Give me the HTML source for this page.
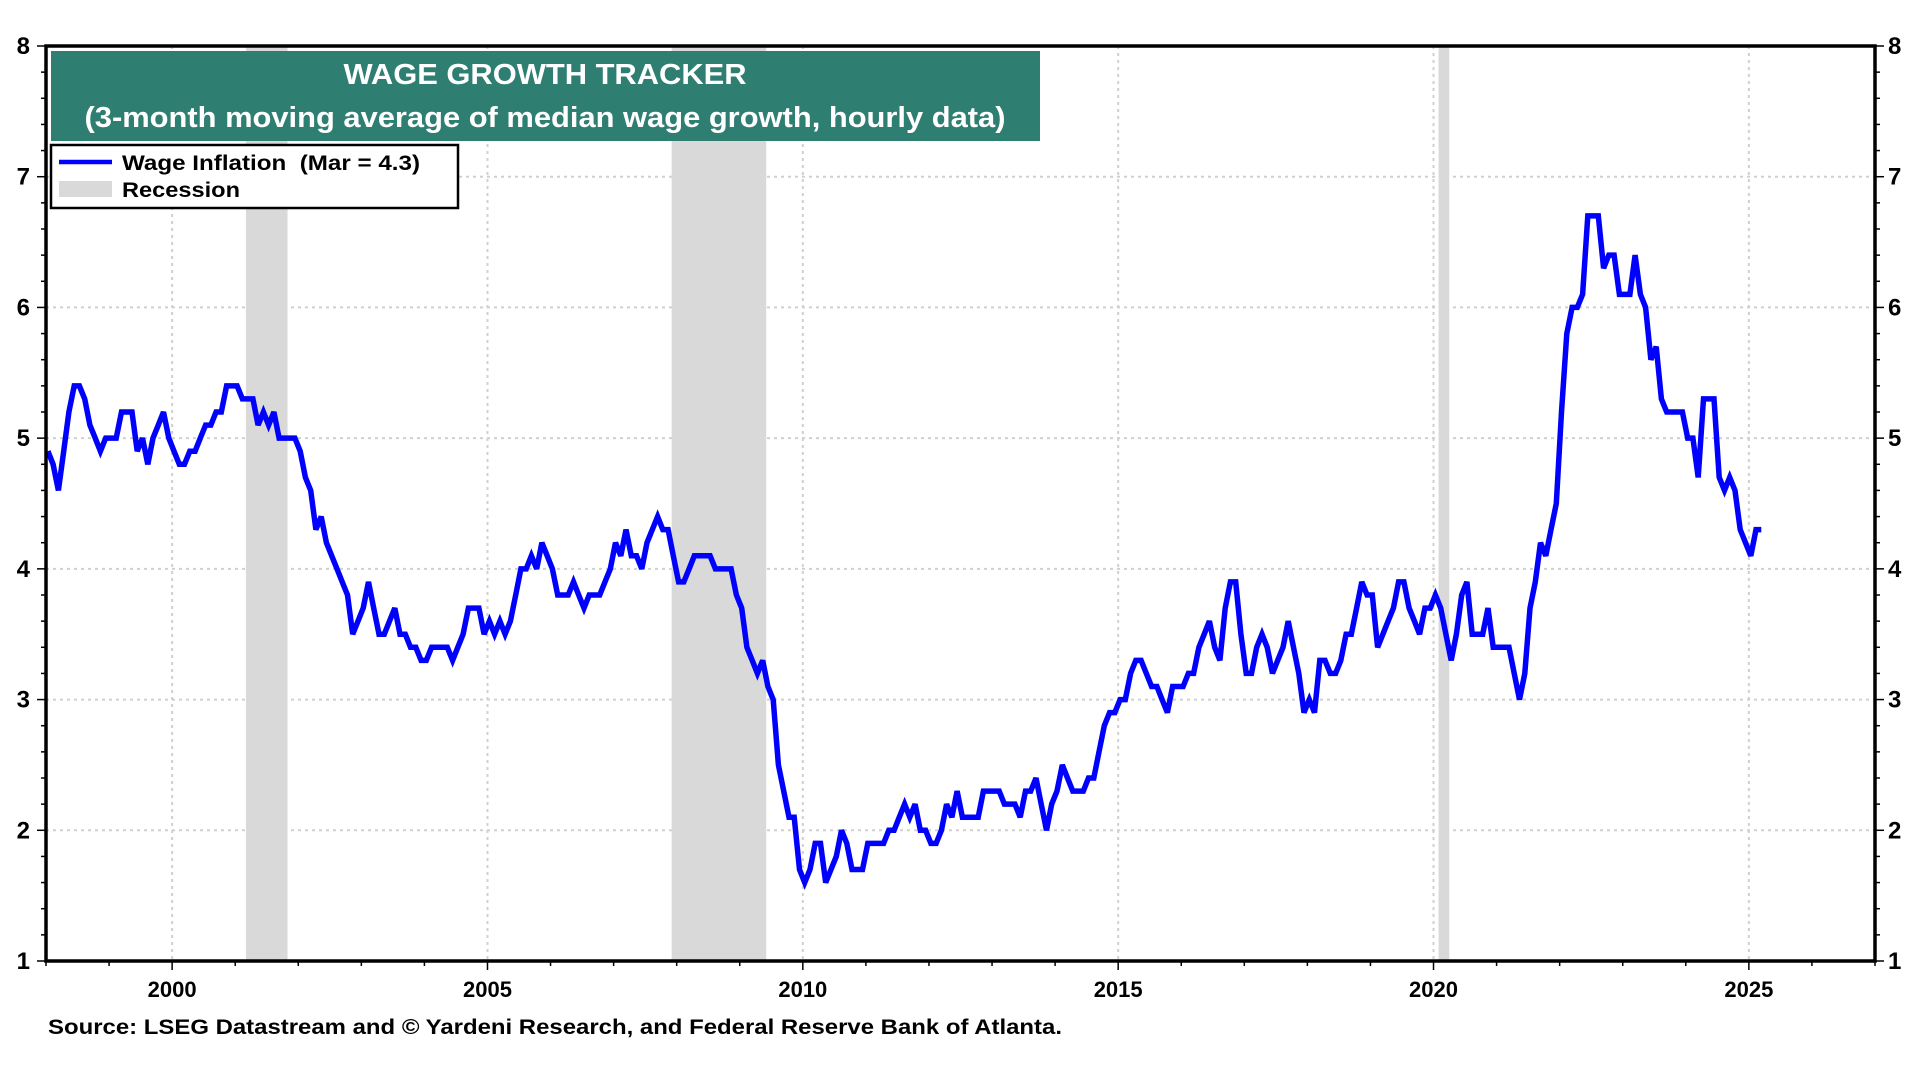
<!DOCTYPE html>
<html><head><meta charset="utf-8"><style>
html,body{margin:0;padding:0;background:#fff;}
svg{display:block;font-family:"Liberation Sans",Arial,sans-serif;}
</style></head><body>
<svg id="chart" width="1920" height="1080" viewBox="0 0 1920 1080" xmlns="http://www.w3.org/2000/svg">
<g id="grid"></g>
<g id="rec"></g>
<g id="series"></g>
<g id="axes"></g>
<g>
<rect x="51" y="51" width="989" height="90" fill="#2f7e72"/>
<text x="545" y="84" text-anchor="middle" font-size="29" font-weight="bold" fill="#fff" textLength="403" lengthAdjust="spacingAndGlyphs">WAGE GROWTH TRACKER</text>
<text x="545" y="127" text-anchor="middle" font-size="29" font-weight="bold" fill="#fff" textLength="921" lengthAdjust="spacingAndGlyphs">(3-month moving average of median wage growth, hourly data)</text>
</g>
<g>
<rect x="51" y="145" width="407" height="63" fill="#fff" stroke="#000" stroke-width="2.5"/>
<line x1="59" y1="162" x2="112" y2="162" stroke="#0000ff" stroke-width="4.5"/>
<text x="122" y="170" font-size="21" font-weight="bold" style="white-space:pre" textLength="298" lengthAdjust="spacingAndGlyphs">Wage Inflation  (Mar = 4.3)</text>
<rect x="59" y="181" width="53" height="16" fill="#d9d9d9"/>
<text x="122" y="197" font-size="21" font-weight="bold" textLength="118" lengthAdjust="spacingAndGlyphs">Recession</text>
</g>
<text x="48" y="1034" font-size="21" font-weight="bold" textLength="1014" lengthAdjust="spacingAndGlyphs">Source: LSEG Datastream and © Yardeni Research, and Federal Reserve Bank of Atlanta.</text>
</svg>
<script>
const startYear = 1998;
const startMonth = 0;
const wageValues = [
4.9,4.8,4.6,4.9,5.2,5.4,5.4,5.3,5.1,5.0,4.9,5.0,
5.0,5.0,5.2,5.2,5.2,4.9,5.0,4.8,5.0,5.1,5.2,5.0,
4.9,4.8,4.8,4.9,4.9,5.0,5.1,5.1,5.2,5.2,5.4,5.4,
5.4,5.3,5.3,5.3,5.1,5.2,5.1,5.2,5.0,5.0,5.0,5.0,
4.9,4.7,4.6,4.3,4.4,4.2,4.1,4.0,3.9,3.8,3.5,3.6,
3.7,3.9,3.7,3.5,3.5,3.6,3.7,3.5,3.5,3.4,3.4,3.3,
3.3,3.4,3.4,3.4,3.4,3.3,3.4,3.5,3.7,3.7,3.7,3.5,
3.6,3.5,3.6,3.5,3.6,3.8,4.0,4.0,4.1,4.0,4.2,4.1,
4.0,3.8,3.8,3.8,3.9,3.8,3.7,3.8,3.8,3.8,3.9,4.0,
4.2,4.1,4.3,4.1,4.1,4.0,4.2,4.3,4.4,4.3,4.3,4.1,
3.9,3.9,4.0,4.1,4.1,4.1,4.1,4.0,4.0,4.0,4.0,3.8,
3.7,3.4,3.3,3.2,3.3,3.1,3.0,2.5,2.3,2.1,2.1,1.7,
1.6,1.7,1.9,1.9,1.6,1.7,1.8,2.0,1.9,1.7,1.7,1.7,
1.9,1.9,1.9,1.9,2.0,2.0,2.1,2.2,2.1,2.2,2.0,2.0,
1.9,1.9,2.0,2.2,2.1,2.3,2.1,2.1,2.1,2.1,2.3,2.3,
2.3,2.3,2.2,2.2,2.2,2.1,2.3,2.3,2.4,2.2,2.0,2.2,
2.3,2.5,2.4,2.3,2.3,2.3,2.4,2.4,2.6,2.8,2.9,2.9,
3.0,3.0,3.2,3.3,3.3,3.2,3.1,3.1,3.0,2.9,3.1,3.1,
3.1,3.2,3.2,3.4,3.5,3.6,3.4,3.3,3.7,3.9,3.9,3.5,
3.2,3.2,3.4,3.5,3.4,3.2,3.3,3.4,3.6,3.4,3.2,2.9,
3.0,2.9,3.3,3.3,3.2,3.2,3.3,3.5,3.5,3.7,3.9,3.8,
3.8,3.4,3.5,3.6,3.7,3.9,3.9,3.7,3.6,3.5,3.7,3.7,
3.8,3.7,3.5,3.3,3.5,3.8,3.9,3.5,3.5,3.5,3.7,3.4,
3.4,3.4,3.4,3.2,3.0,3.2,3.7,3.9,4.2,4.1,4.3,4.5,
5.2,5.8,6.0,6.0,6.1,6.7,6.7,6.7,6.3,6.4,6.4,6.1,
6.1,6.1,6.4,6.1,6.0,5.6,5.7,5.3,5.2,5.2,5.2,5.2,
5.0,5.0,4.7,5.3,5.3,5.3,4.7,4.6,4.7,4.6,4.3,4.2,
4.1,4.3,4.3
];
const recessionStarts = [2001.17, 2007.92, 2020.08];
const recessionEnds = [2001.83, 2009.42, 2020.25];
const yTicks = [1,2,3,4,5,6,7,8];
const xTickYears = [2000,2005,2010,2015,2020,2025];

const NS = 'http://www.w3.org/2000/svg';
const L = 46, R = 1875, T = 46, B = 961;
const xMin = 1998.0, xMax = 2027.0, yMin = 1, yMax = 8;
const xs = v => L + (v - xMin) / (xMax - xMin) * (R - L);
const ys = v => B - (v - yMin) / (yMax - yMin) * (B - T);
function mk(tag, attrs, parent){ const e = document.createElementNS(NS, tag); for (const k in attrs) e.setAttribute(k, attrs[k]); parent.appendChild(e); return e; }

const grid = document.getElementById('grid');
yTicks.forEach(v => { if (v > yMin && v < yMax) {
  const g = mk('line', {x1:L, x2:R, y1:ys(v), y2:ys(v), stroke:'#d0d0d0', 'stroke-width':2, 'stroke-dasharray':'3,4'}, grid);
  
  
}});
xTickYears.forEach(v => {
  const g = mk('line', {x1:xs(v), x2:xs(v), y1:T, y2:B, stroke:'#d0d0d0', 'stroke-width':2, 'stroke-dasharray':'3,4'}, grid);
  
  
});

const rec = document.getElementById('rec');
recessionStarts.forEach((s, i) => {
  const r = mk('rect', {x:xs(s), y:T, width:xs(recessionEnds[i]) - xs(s), height:B - T, fill:'#d9d9d9'}, rec);
  
  
});

const pts = wageValues.map((v, i) => xs(startYear + (startMonth + i) / 12 + 0.03).toFixed(1) + ',' + ys(v).toFixed(1)).join(' ');
const line = mk('polyline', {points:pts, fill:'none', stroke:'#0000ff', 'stroke-width':5.5, 'stroke-linejoin':'miter', 'stroke-miterlimit':3}, document.getElementById('series'));



const axes = document.getElementById('axes');
for (let v = yMin; v <= yMax + 1e-9; v += 0.2) {
  const major = Math.abs(v - Math.round(v)) < 1e-6;
  const len = major ? 9 : 5;
  mk('line', {x1:L - len, x2:L, y1:ys(v), y2:ys(v), stroke:'#000', 'stroke-width':1.5}, axes);
  mk('line', {x1:R, x2:R + len, y1:ys(v), y2:ys(v), stroke:'#000', 'stroke-width':1.5}, axes);
}
yTicks.forEach(v => {
  const t1 = mk('text', {x:30, y:ys(v) + 8, 'text-anchor':'end', 'font-size':24, 'font-weight':'bold'}, axes);
  t1.textContent = v;
  
  
  const t2 = mk('text', {x:1888, y:ys(v) + 8, 'text-anchor':'start', 'font-size':24, 'font-weight':'bold'}, axes);
  t2.textContent = v;
  
  
});
for (let yr = 1998; yr <= 2027; yr++) {
  const major = yr % 5 === 0;
  mk('line', {x1:xs(yr), x2:xs(yr), y1:B, y2:B + (major ? 9 : 5), stroke:'#000', 'stroke-width':1.5}, axes);
}
xTickYears.forEach(v => {
  const t = mk('text', {x:xs(v), y:997, 'text-anchor':'middle', 'font-size':22, 'font-weight':'bold'}, axes);
  t.textContent = v;
  
  
});
const frame = mk('rect', {x:L, y:T, width:R - L, height:B - T, fill:'none', stroke:'#000', 'stroke-width':3.5}, axes);


</script>
</body></html>
